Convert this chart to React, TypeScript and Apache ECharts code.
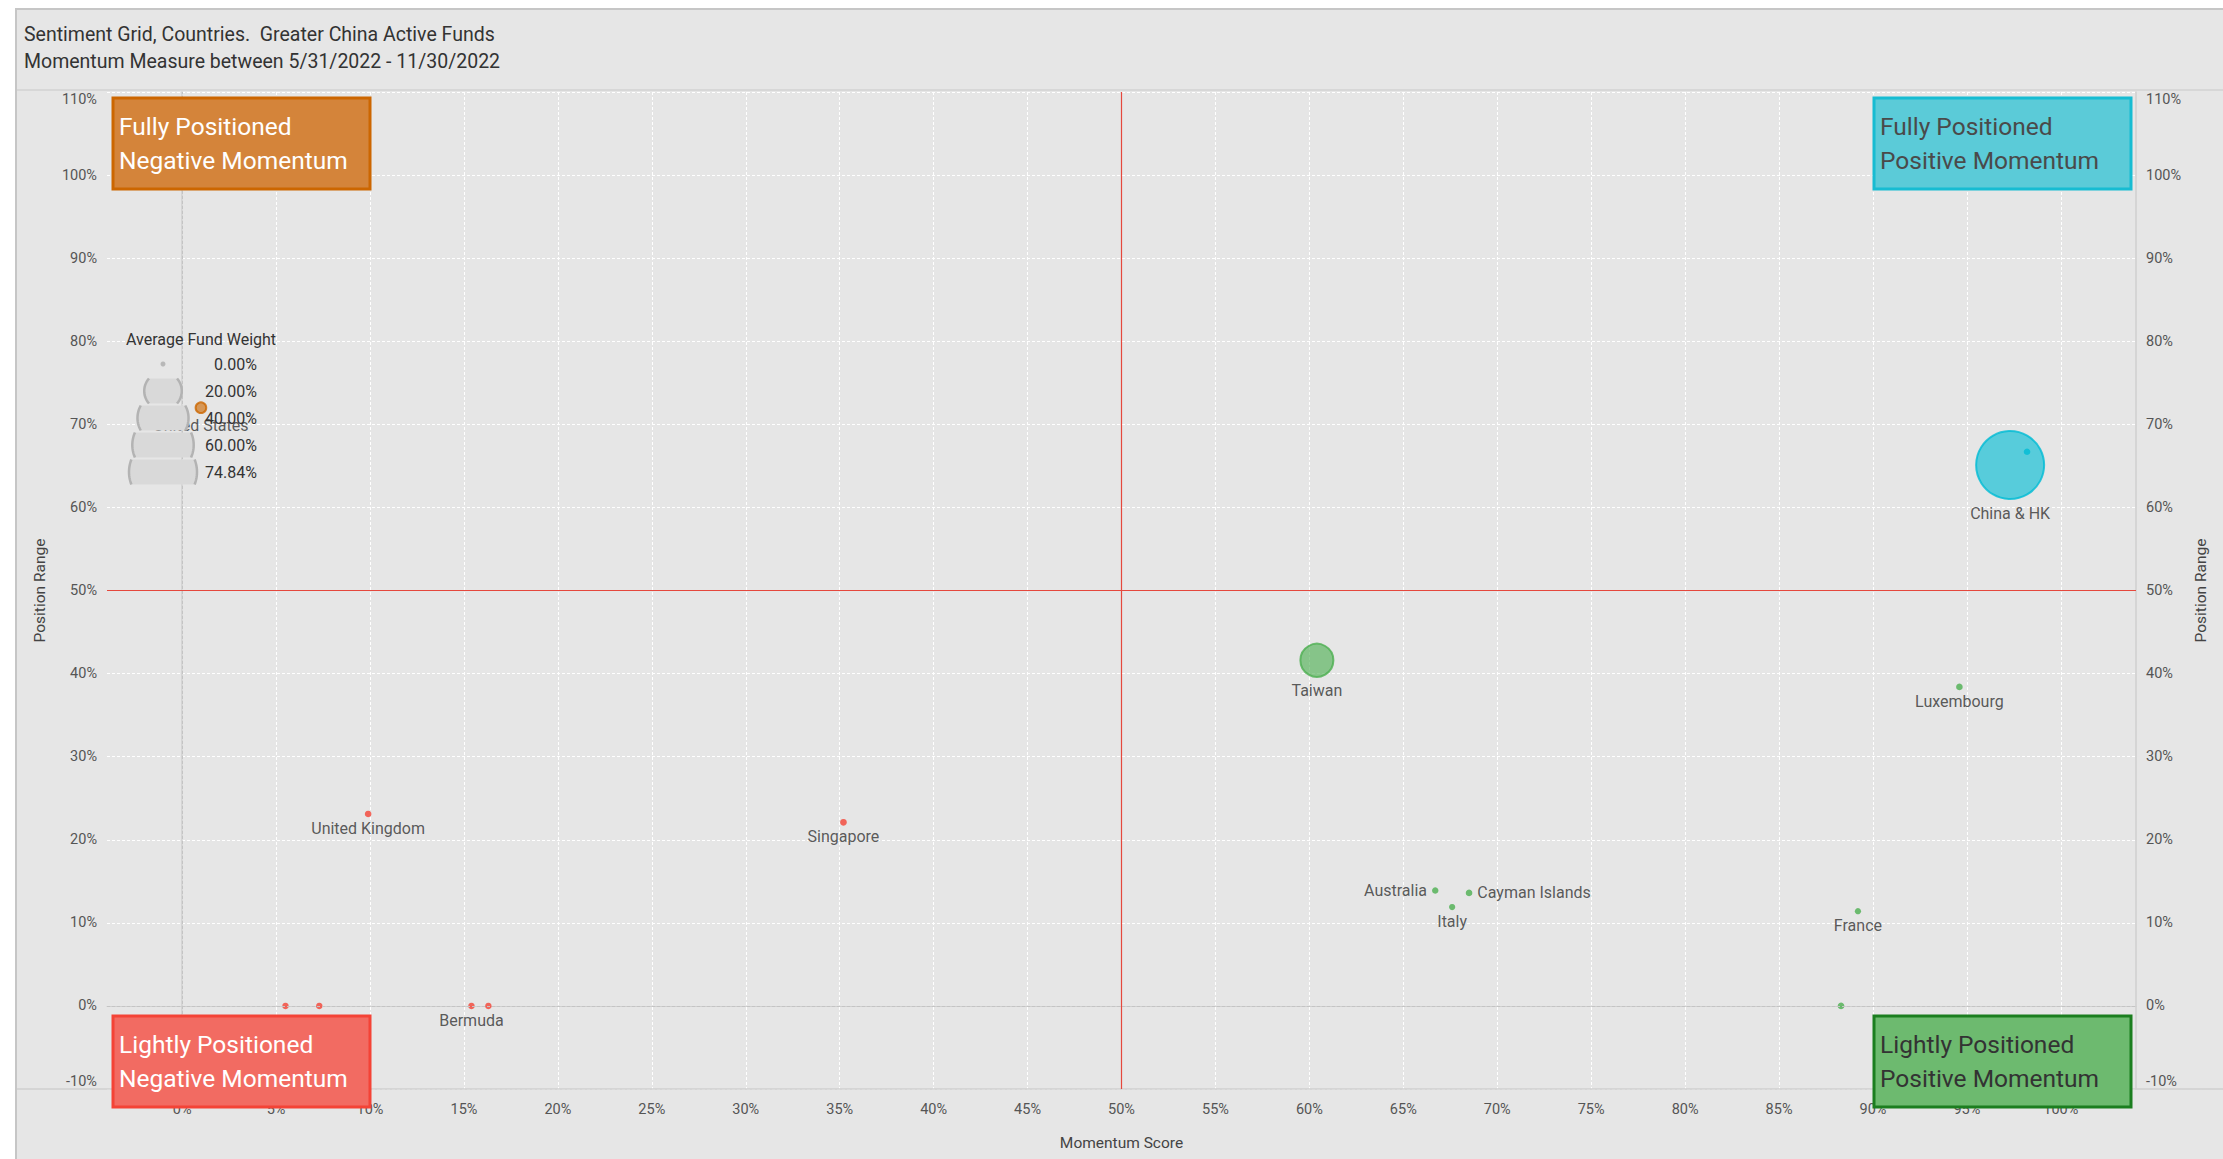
import React, { useEffect, useRef } from "react";
import * as echarts from "echarts";

// ---------- data ----------
const countries = [
  "China & HK", "", "Taiwan", "Luxembourg", "France", "Australia", "Cayman Islands", "Italy", "",
  "United Kingdom", "Singapore", "Bermuda", "", "", "", "United States",
];
const momentumScore = [97.3, 98.2, 60.4, 94.6, 89.2, 66.7, 68.5, 67.6, 88.3, 9.9, 35.2, 15.4, 16.3, 5.5, 7.3, 1.0];
const positionRange = [65.1, 66.7, 41.6, 38.4, 11.4, 13.9, 13.6, 11.9, 0, 23.1, 22.1, 0, 0, 0, 0, 72.0];
const avgFundWeight = [74.84, 0.05, 14.8, 0.05, 0.03, 0.04, 0.05, 0.03, 0.05, 0.05, 0.06, 0.04, 0.04, 0.04, 0.04, 0.6];

const xTickValues = [0, 5, 10, 15, 20, 25, 30, 35, 40, 45, 50, 55, 60, 65, 70, 75, 80, 85, 90, 95, 100];
const legendWeights = [0, 20, 40, 60, 74.84];

const titleLines = [
  "Sentiment Grid, Countries.  Greater China Active Funds",
  "Momentum Measure between 5/31/2022 - 11/30/2022",
];
const quadrantText = {
  tl: ["Fully Positioned", "Negative Momentum"],
  tr: ["Fully Positioned", "Positive Momentum"],
  bl: ["Lightly Positioned", "Negative Momentum"],
  br: ["Lightly Positioned", "Positive Momentum"],
};

// ---------- styles ----------
const FONT = "Roboto";
const ORANGE = [204, 102, 0];
const CYAN = [0, 188, 212];
const GREEN = [76, 175, 80];
const RED = [244, 67, 54];
const rgba = (c: number[], a: number) => `rgba(${c[0]},${c[1]},${c[2]},${a})`;
const quadColor = (x: number, y: number) =>
  y >= 50 ? (x >= 50 ? CYAN : ORANGE) : x >= 50 ? GREEN : RED;
const sizeOf = (w: number) => 5 + 63 * Math.sqrt(w / 74.84);
const labelSide: Record<string, string> = { Australia: "left", "Cayman Islands": "right" };

const CW = 2206;
const CH = 1149;

function buildOption() {
  const data = countries.map((name, i) => {
    const x = momentumScore[i];
    const y = positionRange[i];
    const w = avgFundWeight[i];
    const c = quadColor(x, y);
    const s = sizeOf(w);
    const side = labelSide[name] || "bottom";
    return {
      name,
      value: [x, y, w],
      symbolSize: s,
      itemStyle: {
        color: rgba(c, s > 9 ? 0.78 : 1),
        borderColor: rgba(c, 1),
        borderWidth: s > 9 ? 2 : 0,
      },
      label: {
        show: name !== "",
        position: side,
        distance: side === "bottom" ? (s > 20 ? 5 : 3) : 5,
      },
    };
  });

  const graphics: any[] = [];
  // header title
  titleLines.forEach((t, i) => {
    graphics.push({
      type: "text", x: 7, y: 24 + i * 27, z: 100,
      style: { text: t, font: `19.5px ${FONT}`, fill: "#333", textVerticalAlign: "middle" },
    });
  });
  // frame lines
  graphics.push({ type: "line", z: 1, shape: { x1: 0, y1: 80, x2: CW, y2: 80 }, style: { stroke: "#d2d2d2", lineWidth: 1.5 } });
  graphics.push({ type: "line", z: 1, shape: { x1: 0, y1: 1079, x2: CW, y2: 1079 }, style: { stroke: "#cfcfcf", lineWidth: 1.5 } });

  // quadrant boxes
  const boxes = [
    { x: 96, y: 88, fill: "#d4843a", stroke: "#cc6600", text: quadrantText.tl, color: "#ffffff" },
    { x: 1857, y: 88, fill: "#5bcbd8", stroke: "#17bcd2", text: quadrantText.tr, color: "#4a4a4a" },
    { x: 96, y: 1006, fill: "#f26b62", stroke: "#f44336", text: quadrantText.bl, color: "#ffffff" },
    { x: 1857, y: 1006, fill: "#6dba6f", stroke: "#1b7e1f", text: quadrantText.br, color: "#333333" },
  ];
  boxes.forEach((b) => {
    graphics.push({
      type: "rect", z: 100,
      shape: { x: b.x, y: b.y, width: 257, height: 91 },
      style: { fill: b.fill, stroke: b.stroke, lineWidth: 3 },
    });
    b.text.forEach((t, i) => {
      graphics.push({
        type: "text", z: 101, x: b.x + 6, y: b.y + 28 + i * 34,
        style: { text: t, font: `24.5px ${FONT}`, fill: b.color, textVerticalAlign: "middle" },
      });
    });
  });

  // size legend
  const lcx = 146;
  graphics.push({
    type: "text", z: 101, x: 184, y: 329,
    style: { text: "Average Fund Weight", font: `16px ${FONT}`, fill: "#333", textAlign: "center", textVerticalAlign: "middle" },
  });
  const hh = 12.5;
  legendWeights.forEach((w, i) => {
    const cy = 354 + i * 27;
    const r = sizeOf(w) / 2;
    if (r <= hh) {
      graphics.push({ type: "circle", z: 100, shape: { cx: lcx, cy, r }, style: { fill: w === 0 ? "#b8b8b8" : "#d9d9d9" } });
    } else {
      const a0 = Math.asin(hh / r);
      const n = 14;
      const right: number[][] = [];
      const left: number[][] = [];
      for (let k = 0; k <= n; k++) {
        const t = -a0 + (2 * a0 * k) / n;
        right.push([lcx + r * Math.cos(t), cy + r * Math.sin(t)]);
        const t2 = Math.PI - a0 + (2 * a0 * k) / n;
        left.push([lcx + r * Math.cos(t2), cy + r * Math.sin(t2)]);
      }
      graphics.push({ type: "polygon", z: 100, shape: { points: [...right, ...left] }, style: { fill: "#d9d9d9" } });
      graphics.push({ type: "polyline", z: 100, shape: { points: right }, style: { stroke: "#b3b3b3", lineWidth: 2.5, fill: null } });
      graphics.push({ type: "polyline", z: 100, shape: { points: left }, style: { stroke: "#b3b3b3", lineWidth: 2.5, fill: null } });
    }
    graphics.push({
      type: "text", z: 101, x: 240, y: cy,
      style: { text: w.toFixed(2) + "%", font: `16px ${FONT}`, fill: "#333", textAlign: "right", textVerticalAlign: "middle" },
    });
  });

  const yAxisCommon = {
    type: "value",
    min: -10,
    max: 110,
    interval: 10,
    name: "Position Range",
    nameLocation: "middle",
    nameTextStyle: { fontFamily: FONT, fontSize: 15.5, color: "#444" },
    axisLine: { show: true, lineStyle: { color: "#cfcfcf", width: 1.5 } },
    axisTick: { show: false },
    axisLabel: {
      formatter: (v: number) => `${v}%`,
      fontFamily: FONT, fontSize: 14.5, color: "#555", margin: 10,
      verticalAlignMaxLabel: "top",
      verticalAlignMinLabel: "bottom",
    },
  };

  return {
    animation: false,
    backgroundColor: "#e6e6e6",
    textStyle: { fontFamily: FONT },
    grid: { left: 90, right: 87, top: 82, bottom: 70, containLabel: false },
    xAxis: {
      type: "value",
      min: -4,
      max: 104,
      name: "Momentum Score",
      nameLocation: "middle",
      nameGap: 46,
      nameTextStyle: { fontFamily: FONT, fontSize: 15.5, color: "#444" },
      axisLine: { show: true, lineStyle: { color: "#cfcfcf" } },
      axisTick: { show: false, customValues: xTickValues },
      axisLabel: {
        customValues: xTickValues,
        formatter: (v: number) => `${v}%`,
        fontFamily: FONT, fontSize: 14.5, color: "#555", margin: 13,
      },
      splitLine: { show: true, lineStyle: { color: "#ffffff", type: [3, 2], width: 1 } },
    },
    yAxis: [
      {
        ...yAxisCommon,
        position: "left",
        nameGap: 59,
        splitLine: { show: true, lineStyle: { color: "#ffffff", type: [3, 2], width: 1 } },
      },
      {
        ...yAxisCommon,
        position: "right",
        nameGap: 57,
        splitLine: { show: false },
      },
    ],
    series: [
      {
        type: "scatter",
        data: [],
        z: 1,
        markLine: {
          silent: true,
          symbol: "none",
          label: { show: false },
          animation: false,
          data: [
            { xAxis: 0, lineStyle: { color: "#c4c4c4", type: [3, 2], width: 1 } },
            { yAxis: 0, lineStyle: { color: "#c4c4c4", type: [3, 2], width: 1 } },
            { xAxis: 50, lineStyle: { color: "#e5483d", type: "solid", width: 1.2 } },
            { yAxis: 50, lineStyle: { color: "#e5483d", type: "solid", width: 1.2 } },
          ],
        },
      },
      {
        type: "scatter",
        z: 3,
        data,
        label: {
          formatter: "{b}",
          color: "#333",
          fontFamily: FONT,
          fontSize: 16,
        },
      },
    ],
    graphic: { elements: graphics },
  };
}

export default function App() {
  const ref = useRef<HTMLDivElement>(null);
  useEffect(() => {
    if (!ref.current) return;
    const chart = echarts.init(ref.current, undefined, { renderer: "svg" });
    chart.setOption(buildOption() as any);
    return () => chart.dispose();
  }, []);
  return (
    <div style={{ position: "absolute", left: 0, top: 0, width: 2223, height: 1159, background: "#ffffff", overflow: "hidden" }}>
      <div style={{ position: "absolute", left: 15, top: 8, width: 2208, height: 1151, background: "#c6c6c6" }} />
      <div ref={ref} style={{ position: "absolute", left: 17, top: 10, width: CW, height: CH }} />
    </div>
  );
}
